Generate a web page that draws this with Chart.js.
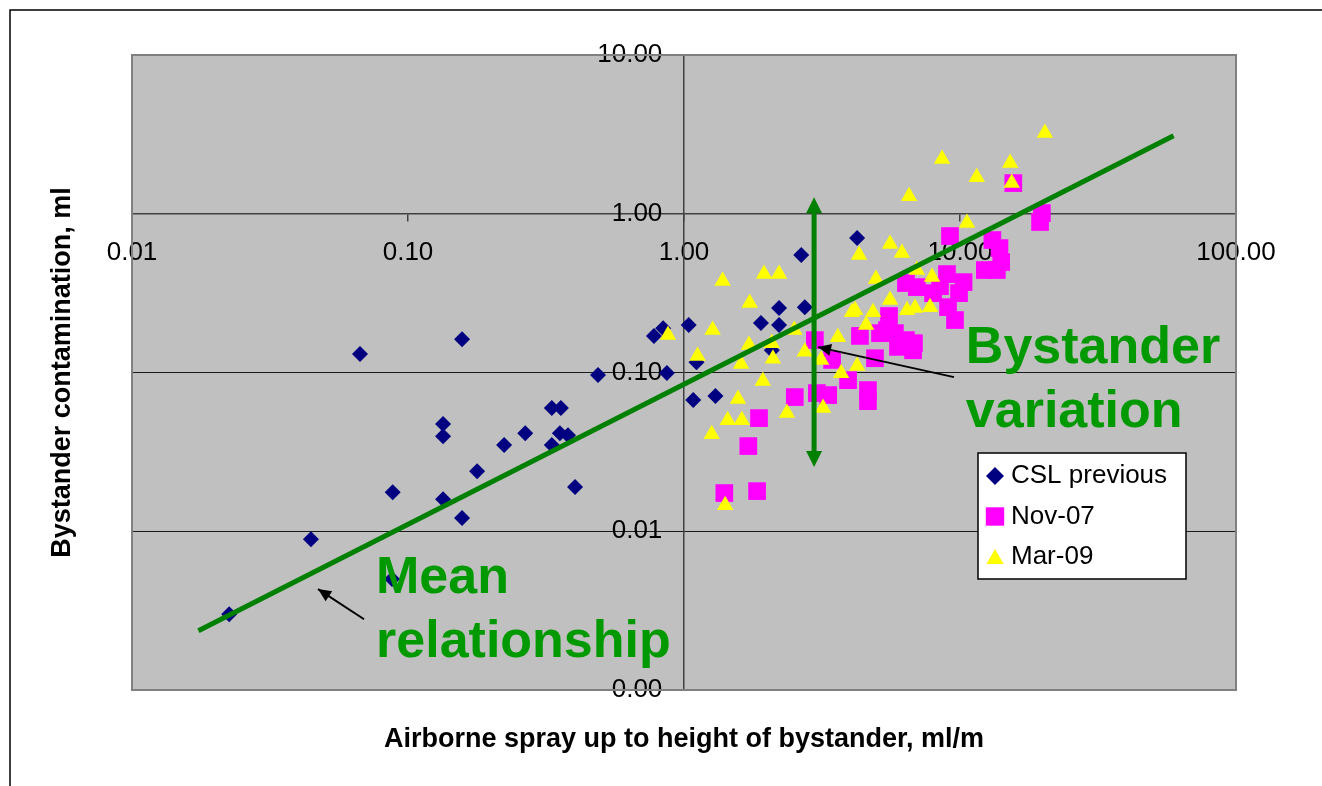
<!DOCTYPE html>
<html>
<head>
<meta charset="utf-8">
<script src="https://cdn.jsdelivr.net/npm/chart.js@4.4.0/dist/chart.umd.min.js"></script>
<style>
  html, body { margin: 0; padding: 0; background: #fff; }
  #wrap { position: relative; width: 1322px; height: 786px; }
</style>
</head>
<body>
<div id="wrap"><canvas id="chart" width="1322" height="786"></canvas></div>
<script>
// series (log-log)
const cslX = [0.0225, 0.0445, 0.067, 0.0875, 0.088, 0.134, 0.134, 0.134, 0.157, 0.157, 0.178, 0.223, 0.266, 0.332, 0.358, 0.355, 0.38, 0.332, 0.403, 0.488, 0.778, 0.84, 0.867, 1.04, 1.08, 1.11, 1.30, 1.90, 2.08, 2.21, 2.21, 2.66, 2.74, 4.24];
const cslY = [0.0030, 0.0089, 0.131, 0.0050, 0.0176, 0.0473, 0.0397, 0.0159, 0.162, 0.0121, 0.0239, 0.0349, 0.0415, 0.0597, 0.0597, 0.0415, 0.0403, 0.0349, 0.0190, 0.0963, 0.170, 0.190, 0.0991, 0.199, 0.067, 0.116, 0.071, 0.205, 0.138, 0.199, 0.255, 0.550, 0.258, 0.703];

const novX = [15.6, 19.8, 19.5, 9.2, 13.1, 13.9, 14.1, 12.3, 13.6, 8.97, 6.98, 6.37, 7.99, 9.92, 9.05, 9.59, 5.53, 5.13, 5.81, 6.37, 6.81, 4.34, 5.44, 5.96, 4.92, 3.44, 2.98, 3.93, 4.64, 4.64, 2.52, 3.03, 3.33, 1.87, 1.71, 1.40, 1.84, 10.3, 6.76, 8.46];
const novY = [1.56, 1.01, 0.887, 0.724, 0.683, 0.608, 0.496, 0.442, 0.442, 0.417, 0.345, 0.366, 0.316, 0.316, 0.258, 0.214, 0.227, 0.177, 0.177, 0.160, 0.153, 0.170, 0.185, 0.145, 0.123, 0.120, 0.160, 0.0895, 0.0775, 0.066, 0.070, 0.0742, 0.0721, 0.0516, 0.0344, 0.0174, 0.0179, 0.371, 0.138, 0.350];

const marX = [20.3, 8.61, 15.2, 11.5, 15.4, 6.54, 10.6, 5.58, 6.16, 4.31, 6.98, 7.92, 4.96, 1.95, 2.21, 1.38, 1.73, 5.58, 4.06, 4.84, 6.43, 6.87, 7.79, 1.27, 2.51, 3.61, 4.57, 1.72, 2.08, 1.12, 1.61, 2.10, 2.74, 3.14, 4.24, 3.71, 1.93, 1.57, 1.44, 1.62, 1.26, 2.36, 3.19, 1.41, 0.875, 4.17];
const marY = [3.23, 2.21, 2.09, 1.70, 1.56, 1.29, 0.874, 0.644, 0.565, 0.549, 0.442, 0.399, 0.388, 0.417, 0.417, 0.377, 0.274, 0.286, 0.240, 0.240, 0.247, 0.255, 0.258, 0.185, 0.185, 0.167, 0.199, 0.149, 0.153, 0.127, 0.113, 0.122, 0.135, 0.120, 0.110, 0.099, 0.0883, 0.068, 0.0501, 0.0501, 0.0409, 0.0555, 0.0597, 0.0146, 0.172, 0.247];

// mean relationship (end points of the fitted line)
const meanX = [0.0174, 59.4];
const meanY = [0.00236, 3.10];

const xTicks = [0.01, 0.1, 1, 10, 100];
const yTicks = [0.001, 0.01, 0.1, 1, 10];

const seriesNames = ['CSL previous', 'Nov-07', 'Mar-09'];

const pts = (xs, ys) => xs.map((x, i) => ({ x, y: ys[i] }));

const GREEN = '#008000';
const TEXT_GREEN = '#009900';
const FONT = '"Liberation Sans", Arial, sans-serif';

// grey plot area + frame
const backdrop = {
  id: 'backdrop',
  beforeDraw(chart) {
    const { ctx, chartArea: a } = chart;
    ctx.save();
    ctx.fillStyle = '#fff';
    ctx.fillRect(0, 0, chart.width, chart.height);
    ctx.strokeStyle = '#000';
    ctx.lineWidth = 1.5;
    ctx.beginPath();
    ctx.moveTo(10, chart.height);
    ctx.lineTo(10, 10);
    ctx.lineTo(chart.width, 10);
    ctx.stroke();
    ctx.fillStyle = '#C0C0C0';
    ctx.fillRect(a.left, a.top, a.right - a.left, a.bottom - a.top);
    ctx.restore();
  },
  beforeDatasetsDraw(chart) {
    const { ctx, chartArea: a } = chart;
    ctx.save();
    ctx.strokeStyle = '#808080';
    ctx.lineWidth = 2;
    ctx.strokeRect(a.left, a.top, a.right - a.left, a.bottom - a.top);
    ctx.restore();
  }
};

function arrowHead(ctx, x1, y1, x2, y2, len, half) {
  const ang = Math.atan2(y2 - y1, x2 - x1);
  ctx.beginPath();
  ctx.moveTo(x2, y2);
  ctx.lineTo(x2 - len * Math.cos(ang) + half * Math.sin(ang), y2 - len * Math.sin(ang) - half * Math.cos(ang));
  ctx.lineTo(x2 - len * Math.cos(ang) - half * Math.sin(ang), y2 - len * Math.sin(ang) + half * Math.cos(ang));
  ctx.closePath();
  ctx.fill();
}

// arrows, green notes, axis titles, legend
const notes = {
  id: 'notes',
  afterDatasetsDraw(chart) {
    const { ctx } = chart;
    const X = v => chart.scales.x.getPixelForValue(v);
    const Y = v => chart.scales.y.getPixelForValue(v);
    ctx.save();

    // vertical double arrow (bystander variation)
    const vx = X(2.96), vt = Y(1.27), vb = Y(0.0254);
    ctx.strokeStyle = GREEN; ctx.fillStyle = GREEN; ctx.lineWidth = 5;
    ctx.beginPath(); ctx.moveTo(vx, vt + 12); ctx.lineTo(vx, vb - 12); ctx.stroke();
    arrowHead(ctx, vx, vb, vx, vt, 16, 8);
    arrowHead(ctx, vx, vt, vx, vb, 16, 8);

    // black pointers
    ctx.strokeStyle = '#000'; ctx.fillStyle = '#000'; ctx.lineWidth = 2;
    const arrows = [[9.51, 0.0935, 3.06, 0.1445], [0.0693, 0.00279, 0.0472, 0.00432]];
    arrows.forEach(([x1, y1, x2, y2]) => {
      const p1 = [X(x1), Y(y1)], p2 = [X(x2), Y(y2)];
      ctx.beginPath(); ctx.moveTo(p1[0], p1[1]); ctx.lineTo(p2[0], p2[1]); ctx.stroke();
      arrowHead(ctx, p1[0], p1[1], p2[0], p2[1], 13, 6);
    });

    // green labels
    ctx.fillStyle = TEXT_GREEN;
    ctx.font = 'bold 52px ' + FONT;
    ctx.textAlign = 'left'; ctx.textBaseline = 'alphabetic';
    ctx.fillText('Bystander', X(10.5), Y(0.1146));
    ctx.fillText('variation', X(10.5), Y(0.0453));
    ctx.fillText('Mean', X(0.0766), Y(0.00407));
    ctx.fillText('relationship', X(0.0766), Y(0.00161));

    ctx.restore();
  },
  afterDraw(chart) {
    const { ctx, chartArea: a } = chart;
    ctx.save();
    // axis titles
    ctx.fillStyle = '#000';
    ctx.font = 'bold 27px ' + FONT;
    ctx.textAlign = 'center'; ctx.textBaseline = 'middle';
    ctx.fillText('Airborne spray up to height of bystander, ml/m', (a.left + a.right) / 2, 740);
    ctx.translate(63, (a.top + a.bottom) / 2);
    ctx.rotate(-Math.PI / 2);
    ctx.fillText('Bystander contamination, ml', 0, 0);
    ctx.restore();

    // legend box
    ctx.save();
    const lx = 978, ly = 453, lw = 208, lh = 126;
    ctx.fillStyle = '#fff';
    ctx.fillRect(lx, ly, lw, lh);
    ctx.strokeStyle = '#000'; ctx.lineWidth = 1.5;
    ctx.strokeRect(lx, ly, lw, lh);
    ctx.font = '26px ' + FONT;
    ctx.textAlign = 'left'; ctx.textBaseline = 'middle';
    const sizes = { rectRot: 9, rect: 13, triangle: 10 };
    chart.data.datasets.slice(1).forEach((ds, i) => {
      const cy = ly + 23 + i * 40.5;
      ctx.fillStyle = ds.backgroundColor;
      Chart.helpers.drawPoint(ctx, { pointStyle: ds.pointStyle, radius: sizes[ds.pointStyle], rotation: 0, borderWidth: 0 }, lx + 17, cy + (ds.pointStyle === 'triangle' ? 2 : 0));
      ctx.fillStyle = '#000';
      ctx.fillText(ds.label, lx + 33, cy);
    });
    ctx.restore();
  }
};

const tickFont = { family: FONT, size: 26 };

new Chart(document.getElementById('chart'), {
  type: 'scatter',
  data: {
    datasets: [
      {
        label: 'Mean relationship',
        data: pts(meanX, meanY),
        showLine: true,
        borderColor: GREEN,
        borderWidth: 5,
        pointRadius: 0,
        order: 0
      },
      {
        label: seriesNames[0],
        data: pts(cslX, cslY),
        pointStyle: 'rectRot',
        pointRadius: 8,
        backgroundColor: '#000080',
        borderColor: '#000080',
        borderWidth: 0,
        order: 3
      },
      {
        label: seriesNames[1],
        data: pts(novX, novY),
        pointStyle: 'rect',
        pointRadius: 12.5,
        backgroundColor: '#FF00FF',
        borderColor: '#FF00FF',
        borderWidth: 0,
        order: 2
      },
      {
        label: seriesNames[2],
        data: pts(marX, marY),
        pointStyle: 'triangle',
        pointRadius: 9.5,
        backgroundColor: '#FFFF00',
        borderColor: '#FFFF00',
        borderWidth: 0,
        order: 1
      }
    ]
  },
  options: {
    responsive: false,
    animation: false,
    events: [],
    layout: { padding: { left: 132, right: 86, top: 55, bottom: 96 } },
    plugins: {
      legend: { display: false },
      tooltip: { enabled: false }
    },
    scales: {
      x: {
        type: 'logarithmic',
        min: 0.01,
        max: 100,
        position: { y: 1 },
        afterBuildTicks: s => { s.ticks = xTicks.map(v => ({ value: v })); },
        ticks: {
          callback: v => Number(v).toFixed(2),
          font: tickFont,
          color: '#000',
          padding: 16,
          maxRotation: 0,
          autoSkip: false
        },
        grid: { drawOnChartArea: false, drawTicks: true, tickLength: 7, color: '#404040', lineWidth: 1.5 },
        border: { display: true, color: '#404040', width: 1.5 }
      },
      y: {
        type: 'logarithmic',
        min: 0.001,
        max: 10,
        position: { x: 1 },
        afterBuildTicks: s => { s.ticks = yTicks.map(v => ({ value: v })); },
        ticks: {
          // labels sit right-aligned on the crossing axis; trailing spaces leave the gap
          callback: v => Number(v).toFixed(2) + '   ',
          font: tickFont,
          color: '#000',
          padding: 14,
          autoSkip: false
        },
        grid: { drawOnChartArea: true, drawTicks: true, tickLength: 7, color: '#1a1a1a', lineWidth: 1 },
        border: { display: true, color: '#404040', width: 1.5 }
      }
    }
  },
  plugins: [backdrop, notes]
});
</script>
</body>
</html>
